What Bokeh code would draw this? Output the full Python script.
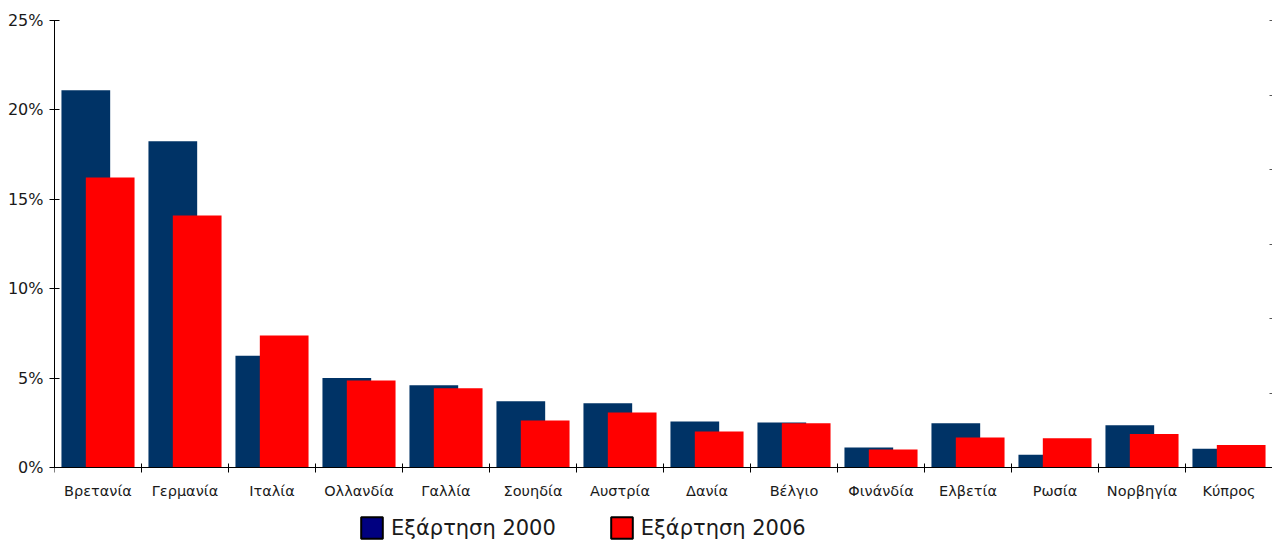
from bokeh.plotting import figure
from bokeh.models import (FixedTicker, LinearAxis, Range1d, Legend, LegendItem,
                          ColumnDataSource)
from bokeh.embed import file_html
from bokeh.resources import INLINE

# Export dependence by destination country, share of total (%)
countries = ["Βρετανία", "Γερμανία", "Ιταλία", "Ολλανδία", "Γαλλία", "Σουηδία",
             "Αυστρία", "Δανία", "Βέλγιο", "Φινάνδία", "Ελβετία", "Ρωσία",
             "Νορβηγία", "Κύπρος"]
dep_2000 = [21.1, 18.25, 6.25, 5.0, 4.6, 3.7, 3.6, 2.57, 2.52, 1.12, 2.47, 0.72, 2.36, 1.05]
dep_2006 = [16.22, 14.1, 7.38, 4.87, 4.43, 2.63, 3.08, 2.02, 2.47, 1.0, 1.68, 1.63, 1.87, 1.26]
series_names = ["Εξάρτηση 2000", "Εξάρτηση 2006"]
y_ticks = [0, 5, 10, 15, 20, 25]

FONT = "DejaVu Sans"
NAVY_BAR = "#003366"
RED = "#ff0000"

# layout: value axis spans 447 px, with 74 px below zero for names and legend
AXIS_PX = 447
BELOW_PX = 74
y_top = 25
y_bottom = -y_top * BELOW_PX / AXIS_PX

n = len(countries)
centers = [i + 0.5 for i in range(n)]
bar_w = 0.56
shift = 0.14

src = ColumnDataSource(dict(
    x0=[c - shift for c in centers],
    x1=[c + shift for c in centers],
    v0=dep_2000,
    v1=dep_2006,
))

p = figure(frame_width=1218, frame_height=AXIS_PX + BELOW_PX,
           output_backend="svg", toolbar_location=None,
           x_range=Range1d(0, n), y_range=Range1d(y_bottom, y_top),
           x_axis_location=None,
           min_border_left=54, min_border_right=0, min_border_top=20,
           min_border_bottom=0, outline_line_color=None)
p.grid.visible = False
p.background_fill_color = "white"
p.border_fill_color = "white"

p.vbar(x="x0", top="v0", width=bar_w, bottom=0, source=src,
       fill_color=NAVY_BAR, line_color=None)
p.vbar(x="x1", top="v1", width=bar_w, bottom=0, source=src,
       fill_color=RED, line_color=None)

# x axis along zero: names at category centres, tick marks at boundaries
xa = LinearAxis(fixed_location=0,
                ticker=FixedTicker(ticks=centers, minor_ticks=list(range(n + 1))))
xa.major_label_overrides = {c: name for c, name in zip(centers, countries)}
xa.major_tick_in = 0
xa.major_tick_out = 0
xa.minor_tick_in = 4
xa.minor_tick_out = 5
xa.minor_tick_line_color = "black"
xa.axis_line_color = "black"
xa.major_label_standoff = 10
xa.major_label_text_font = FONT
xa.major_label_text_font_size = "14.5px"
xa.major_label_text_color = "#1a1a1a"
p.add_layout(xa, "below")

# y axis in percent, drawn from 0 to 25 only
ya = p.yaxis[0]
ya.ticker = FixedTicker(ticks=y_ticks, minor_ticks=[])
ya.bounds = (0, y_top)
ya.major_label_overrides = {t: f"{t}%" for t in y_ticks}
ya.major_tick_in = 5
ya.major_tick_out = 5
ya.major_tick_line_color = "black"
ya.axis_line_color = "black"
ya.major_label_standoff = 6
ya.major_label_text_font = FONT
ya.major_label_text_font_size = "16px"
ya.major_label_text_color = "#1a1a1a"

# secondary scale on the right: short tick marks only, no labels
r_top = 6
p.extra_y_ranges = {"right": Range1d(-r_top * BELOW_PX / AXIS_PX, r_top)}
ra = LinearAxis(y_range_name="right",
                ticker=FixedTicker(ticks=[], minor_ticks=[1, 2, 3, 4, 5, 6]))
ra.axis_line_color = None
ra.major_tick_line_color = None
ra.minor_tick_in = 3
ra.minor_tick_out = 0
ra.minor_tick_line_color = "#555555"
ra.major_label_standoff = 0
p.add_layout(ra, "right")

# legend swatches (proxy glyphs holding no drawable value)
nan = float("nan")
sw0 = p.vbar(x=[nan], top=[nan], width=0.5, fill_color="#000080",
             line_color="black", line_width=2)
sw1 = p.vbar(x=[nan], top=[nan], width=0.5, fill_color=RED,
             line_color="black", line_width=2)
legend = Legend(items=[LegendItem(label=series_names[0], renderers=[sw0]),
                       LegendItem(label=series_names[1], renderers=[sw1])],
                orientation="horizontal", location=(304, 0),
                glyph_width=27, glyph_height=27, label_standoff=6, spacing=52,
                padding=0, margin=0, border_line_color=None,
                background_fill_alpha=0,
                label_text_font=FONT, label_text_font_size="21px",
                label_text_color="#1a1a1a", label_height=27)
p.add_layout(legend, "center")

open("out.html", "w").write(file_html(p, INLINE))
